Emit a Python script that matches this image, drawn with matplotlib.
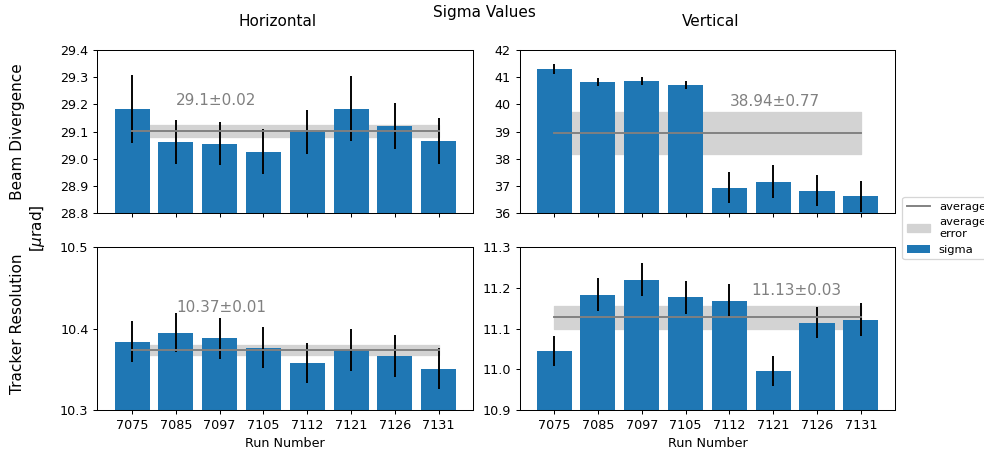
import numpy as np
import matplotlib
matplotlib.use("Agg")
import matplotlib.pyplot as plt

runs = ["7075", "7085", "7097", "7105", "7112", "7121", "7126", "7131"]

# beam divergence sigma [urad]
div_h = [29.184, 29.063, 29.056, 29.027, 29.098, 29.184, 29.122, 29.067]
div_h_err = [0.124, 0.081, 0.080, 0.081, 0.081, 0.120, 0.084, 0.084]
div_v = [41.305, 40.829, 40.866, 40.720, 36.951, 37.171, 36.841, 36.634]
div_v_err = [0.18, 0.14, 0.15, 0.146, 0.58, 0.60, 0.57, 0.57]

# tracker resolution sigma [urad]
res_h = [10.384, 10.395, 10.388, 10.3765, 10.358, 10.3736, 10.3667, 10.3507]
res_h_err = [0.025, 0.0237, 0.025, 0.025, 0.0245, 0.0256, 0.0254, 0.025]
res_v = [11.0456, 11.183, 11.2198, 11.1765, 11.1683, 10.9965, 11.1143, 11.1217]
res_v_err = [0.037, 0.041, 0.041, 0.040, 0.041, 0.036, 0.038, 0.040]

# weighted averages and their errors
avg_vals = [[29.101, 38.94], [10.3736, 11.1274]]
avg_errs = [[0.022, 0.77], [0.0063, 0.0278]]

ylims = [[(28.8, 29.4), (36, 42)], [(10.3, 10.5), (10.9, 11.3)]]
label_pos = [[(1.0, 29.196), (4.0, 39.93)], [(1.0, 10.42), (4.5, 11.181)]]

data = [[(div_h, div_h_err), (div_v, div_v_err)],
        [(res_h, res_h_err), (res_v, res_v_err)]]

DPI = 91.5
fig, axs = plt.subplots(2, 2, sharex=True, figsize=(984 / DPI, 457 / DPI), dpi=DPI)
plt.subplots_adjust(left=0.099, right=0.910, top=0.891, bottom=0.102,
                    wspace=0.123, hspace=0.203)

x = np.arange(len(runs))
for i in range(2):
    for j in range(2):
        ax = axs[i, j]
        vals, errs = data[i][j]
        avg = avg_vals[i][j]
        err = avg_errs[i][j]
        band = ax.fill_between([x[0], x[-1]], avg - err, avg + err,
                               color="lightgray", label="average\nerror")
        bars = ax.bar(x, vals, yerr=errs, color="C0", label="sigma")
        line, = ax.plot([x[0], x[-1]], [avg, avg], color="gray", label="average")
        tx, ty = label_pos[i][j]
        ax.text(tx, ty, f"{round(avg, 2)}\u00b1{round(err, 2)}",
                color="gray", fontsize=12, ha="left", va="baseline")
        ax.set_ylim(*ylims[i][j])
        ax.set_xticks(x)
        ax.set_xticklabels(runs)

axs[0, 0].set_yticks(np.round(np.arange(28.8, 29.41, 0.1), 1))
axs[0, 0].set_yticklabels([f"{v:.1f}" for v in np.arange(28.8, 29.41, 0.1)])
axs[0, 1].set_yticks(range(36, 43))
axs[1, 0].set_yticks([10.3, 10.4, 10.5])
axs[1, 1].set_yticks([10.9, 11.0, 11.1, 11.2, 11.3])
axs[1, 1].set_yticklabels(["10.9", "11.0", "11.1", "11.2", "11.3"])
axs[1, 0].set_xlabel("Run Number")
axs[1, 1].set_xlabel("Run Number")

fig.text(278 / 984, 1 - 22 / 457, "Horizontal", fontsize=12, ha="center", va="center")
fig.text(711 / 984, 1 - 22 / 457, "Vertical", fontsize=12, ha="center", va="center")
fig.suptitle("Sigma Values", x=484.5 / 984, y=1 - 13 / 457, va="center")
fig.supylabel("Tracker Resolution" + " " * 11 + "Beam Divergence\n[$\\mu$rad]",
              x=28.5 / 984, ha="center")

fig.legend([line, band, bars], ["average", "average\nerror", "sigma"],
           loc="center left", bbox_to_anchor=(896.6 / 984, 0.501), fontsize=9)

fig.savefig("out.png", dpi=DPI)
